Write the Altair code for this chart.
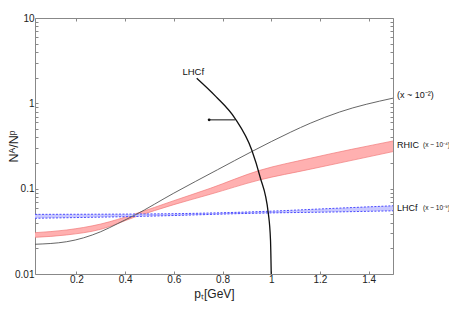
import altair as alt
import pandas as pd

# ---------------- data ----------------
# thin grey curve, label "(x ~ 10^-2)"
thin_p = [0.03, 0.16, 0.30, 0.37, 0.44, 0.60, 0.78, 0.92, 1.08, 1.16, 1.28, 1.50]
thin_v = [0.0223, 0.0239, 0.0313, 0.039, 0.049, 0.0886, 0.167, 0.272, 0.46, 0.584, 0.79, 1.15]

# RHIC band (x ~ 10^-4)
rhic_p = [0.03, 0.16, 0.30, 0.44, 0.60, 0.75, 0.95, 1.16, 1.50]
rhic_lo = [0.0269, 0.0287, 0.0334, 0.0465, 0.065, 0.086, 0.126, 0.169, 0.272]
rhic_hi = [0.0305, 0.0328, 0.0385, 0.0505, 0.0723, 0.101, 0.163, 0.227, 0.362]

# LHCf band (x ~ 10^-9)
lhcf_p = [0.03, 0.48, 1.00, 1.20, 1.50]
lhcf_lo = [0.045, 0.0475, 0.052, 0.053, 0.055]
lhcf_hi = [0.050, 0.0505, 0.0545, 0.0578, 0.063]

# LHCf kinematic limit (thick black arc)
arc_p = [0.694, 0.773, 0.851, 0.92, 0.954, 0.988, 0.997, 1.0]
arc_v = [1.97, 1.20, 0.668, 0.284, 0.138, 0.0514, 0.025, 0.01]

# arrow pointing left from the arc
arrow_p = [0.745, 0.851]
arrow_v = [0.64, 0.64]

# labels
top_label = pd.DataFrame({"p": [0.68], "v": [2.33], "t": ["LHCf"]})
right_big = pd.DataFrame({"p": [1.5, 1.5, 1.5], "v": [1.25, 0.325, 0.059],
                          "t": ["(x ~ 10⁻²)", "RHIC", "LHCf"]})
right_small = pd.DataFrame({"p": [1.5, 1.5], "v": [0.325, 0.059],
                            "t": ["(x ~ 10⁻⁴)", "(x ~ 10⁻⁹)"]})

x_ticks = [0.2, 0.4, 0.6, 0.8, 1.0, 1.2, 1.4]
y_ticks = [m * 10 ** e for e in (-2, -1, 0) for m in range(1, 10)] + [10]
y_ticks = [float(f"{v:.3g}") for v in y_ticks]

X_DOM = [0.03, 1.5]
Y_DOM = [0.01, 10]

FONT = "Liberation Sans"
TICK_IN = alt.ExprRef(expr="-3")

# ---------------- build chart ----------------
xs = alt.Scale(domain=X_DOM, nice=False, zero=False)
ys = alt.Scale(type="log", domain=Y_DOM, nice=False)

thin_df = pd.DataFrame({"p": thin_p, "v": thin_v})
rhic_df = pd.DataFrame({"p": rhic_p, "lo": rhic_lo, "hi": rhic_hi})
lhcf_df = pd.DataFrame({"p": lhcf_p, "lo": lhcf_lo, "hi": lhcf_hi})
arc_df = pd.DataFrame({"p": arc_p, "v": arc_v})
arrow_df = pd.DataFrame({"p": arrow_p, "v": arrow_v})

label_expr = ("abs(log(datum.value)/LN10 - round(log(datum.value)/LN10)) < 1e-6 "
              "? format(datum.value, '~g') : ''")

x_axis = alt.Axis(values=x_ticks, format="~g", title="pₜ[GeV]", grid=False,
                  domain=False, tickSize=TICK_IN, tickColor="#888", labelPadding=3,
                  labelFontSize=10, titleFontSize=12, titlePadding=4,
                  titleFontWeight="normal",
                  labelColor="#222", titleColor="#222", labelFont=FONT, titleFont=FONT)
y_axis = alt.Axis(values=y_ticks, labelExpr=label_expr, title="Nᴬ/Nᵖ", grid=False,
                  domain=False, tickSize=TICK_IN, tickColor="#888", labelPadding=4,
                  labelFontSize=10, titleFontSize=12.5, titleFontWeight="normal",
                  titleX=-18, titleY=128, titleBaseline="alphabetic",
                  labelColor="#222", titleColor="#222", labelFont=FONT, titleFont=FONT)
x_axis_top = alt.Axis(orient="top", values=x_ticks, labels=False, title=None,
                      grid=False, domain=False, tickSize=TICK_IN, tickColor="#888")
y_axis_right = alt.Axis(orient="right", values=y_ticks, labels=False, title=None,
                        grid=False, domain=False, tickSize=TICK_IN, tickColor="#888")

# axis carrier layers
axes_main = alt.Chart(thin_df).mark_line(opacity=0).encode(
    x=alt.X("p:Q", scale=xs, axis=x_axis),
    y=alt.Y("v:Q", scale=ys, axis=y_axis),
)
axes_mirror = alt.Chart(thin_df).mark_line(opacity=0).encode(
    x=alt.X("p:Q", scale=xs, axis=x_axis_top),
    y=alt.Y("v:Q", scale=ys, axis=y_axis_right),
)

X = alt.X("p:Q", scale=xs, axis=None)

rhic_area = alt.Chart(rhic_df).mark_area(color="#ffb0b0", interpolate="monotone").encode(
    x=X, y=alt.Y("lo:Q", scale=ys, axis=None), y2="hi:Q")
rhic_lo_line = alt.Chart(rhic_df).mark_line(color="#f07a7a", strokeWidth=0.7,
                                            interpolate="monotone").encode(
    x=X, y=alt.Y("lo:Q", scale=ys, axis=None))
rhic_hi_line = alt.Chart(rhic_df).mark_line(color="#f07a7a", strokeWidth=0.7,
                                            interpolate="monotone").encode(
    x=X, y=alt.Y("hi:Q", scale=ys, axis=None))

lhcf_area = alt.Chart(lhcf_df).mark_area(color="#c9c9ff", interpolate="monotone").encode(
    x=X, y=alt.Y("lo:Q", scale=ys, axis=None), y2="hi:Q")
lhcf_lo_line = alt.Chart(lhcf_df).mark_line(color="#4b4bff", strokeWidth=1,
                                            strokeDash=[2, 1.5],
                                            interpolate="monotone").encode(
    x=X, y=alt.Y("lo:Q", scale=ys, axis=None))
lhcf_hi_line = alt.Chart(lhcf_df).mark_line(color="#4b4bff", strokeWidth=1,
                                            strokeDash=[2, 1.5],
                                            interpolate="monotone").encode(
    x=X, y=alt.Y("hi:Q", scale=ys, axis=None))

thin_line = alt.Chart(thin_df).mark_line(color="#555555", strokeWidth=0.9,
                                         interpolate="monotone").encode(
    x=X, y=alt.Y("v:Q", scale=ys, axis=None))

arc_line = alt.Chart(arc_df).mark_line(color="#111111", strokeWidth=1.3,
                                       interpolate="monotone", clip=True).encode(
    x=X, y=alt.Y("v:Q", scale=ys, axis=None))

arrow_line = alt.Chart(arrow_df).mark_line(color="#111111", strokeWidth=1).encode(
    x=X, y=alt.Y("v:Q", scale=ys, axis=None))
arrow_head = alt.Chart(arrow_df.iloc[:1]).mark_point(
    shape="circle", filled=True, color="#111111", size=8, opacity=1).encode(
    x=X, y=alt.Y("v:Q", scale=ys, axis=None))

top_text = alt.Chart(top_label).mark_text(font=FONT, fontSize=9.5, color="#111",
                                          align="center", baseline="middle").encode(
    x=X, y=alt.Y("v:Q", scale=ys, axis=None), text="t:N")
right_text = alt.Chart(right_big).mark_text(font=FONT, fontSize=9, color="#111",
                                            align="left", baseline="middle", dx=4,
                                            clip=False).encode(
    x=X, y=alt.Y("v:Q", scale=ys, axis=None), text="t:N")
right_text_small = alt.Chart(right_small).mark_text(font=FONT, fontSize=6.5, color="#111",
                                                    align="left", baseline="middle",
                                                    dx=30, clip=False).encode(
    x=X, y=alt.Y("v:Q", scale=ys, axis=None), text="t:N")

chart = alt.layer(
    axes_main, axes_mirror,
    rhic_area, rhic_lo_line, rhic_hi_line,
    lhcf_area, lhcf_lo_line, lhcf_hi_line,
    thin_line, arc_line, arrow_line, arrow_head,
    top_text, right_text, right_text_small,
).resolve_axis(x="independent", y="independent").properties(
    width=358, height=256,
    autosize=alt.AutoSizeParams(type="none"),
    padding={"left": 27, "top": 10, "right": 56, "bottom": 41},
    background="white",
).configure_view(stroke="#888888", strokeWidth=1)

chart.save("out.html", embed_options={"renderer": "svg", "actions": False})
